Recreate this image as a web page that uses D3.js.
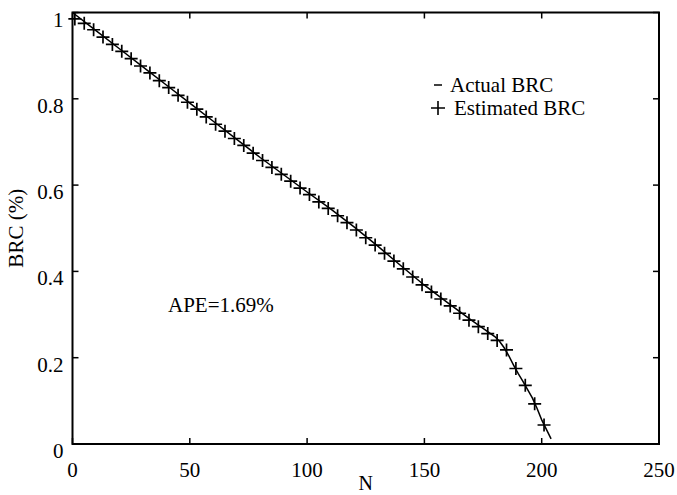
<!DOCTYPE html>
<html>
<head>
<meta charset="utf-8">
<script src="https://cdn.jsdelivr.net/npm/d3@7"></script>
<style>
  body { margin: 0; background: #fff; }
  text { font-family: "Liberation Serif", "Times New Roman", serif; fill: #000; }
</style>
</head>
<body>
<script>
// Actual BRC curve (polyline vertices)
var actualN = [0, 10, 20, 30, 40, 50, 60, 70, 80, 90, 100, 110, 120, 130, 140, 150,
  160, 170, 175, 180, 182, 184, 186, 188, 190, 192, 194, 196, 198, 200, 202, 204];
var actualBRC = [1.0, 0.958, 0.916, 0.874, 0.832, 0.790, 0.748, 0.706, 0.664, 0.624,
  0.584, 0.545, 0.503, 0.459, 0.413, 0.368, 0.327, 0.287, 0.268, 0.249, 0.238, 0.223,
  0.204, 0.183, 0.163, 0.145, 0.126, 0.107, 0.083, 0.056, 0.034, 0.012];

// Estimated BRC markers
var estN = [1, 5, 9, 13, 17, 21, 25, 29, 33, 37, 41, 45, 49, 53, 57, 61, 65, 69, 73, 77,
  81, 85, 89, 93, 97, 101, 105, 109, 113, 117, 121, 125, 129, 133, 137, 141, 145, 149,
  153, 157, 161, 165, 169, 173, 177, 181, 185, 189, 193, 197, 201];
var estBRC = [0.985, 0.975, 0.960, 0.943, 0.926, 0.910, 0.893, 0.876, 0.860, 0.842,
  0.826, 0.808, 0.792, 0.776, 0.758, 0.741, 0.725, 0.708, 0.692, 0.674, 0.657, 0.641,
  0.625, 0.609, 0.593, 0.578, 0.561, 0.546, 0.529, 0.513, 0.496, 0.478, 0.461, 0.442,
  0.424, 0.406, 0.387, 0.369, 0.352, 0.336, 0.320, 0.303, 0.287, 0.272, 0.256, 0.240,
  0.218, 0.175, 0.136, 0.093, 0.044];

var xTicks = [0, 50, 100, 150, 200, 250];
var yTicks = [0, 0.2, 0.4, 0.6, 0.8, 1];
var yTickLabels = ['0', '0.2', '0.4', '0.6', '0.8', '1'];

var width = 677, height = 495;
var margin = { top: 12.5, right: 18, bottom: 51, left: 72.5 };
var w = width - margin.left - margin.right;
var h = height - margin.top - margin.bottom;

var svg = d3.select('body').append('svg')
  .attr('width', width)
  .attr('height', height);

var g = svg.append('g')
  .attr('transform', 'translate(' + margin.left + ',' + margin.top + ')');

var x = d3.scaleLinear().domain([0, 250]).range([0, w]);
var y = d3.scaleLinear().domain([0, 1]).range([h, 0]);

// frame
g.append('rect')
  .attr('width', w).attr('height', h)
  .attr('fill', 'none').attr('stroke', '#000').attr('stroke-width', 2);

// inward ticks on all four sides
var tickLen = 6;
xTicks.forEach(function (t) {
  g.append('line').attr('x1', x(t)).attr('x2', x(t)).attr('y1', h).attr('y2', h - tickLen)
    .attr('stroke', '#000').attr('stroke-width', 1.5);
  g.append('line').attr('x1', x(t)).attr('x2', x(t)).attr('y1', 0).attr('y2', tickLen)
    .attr('stroke', '#000').attr('stroke-width', 1.5);
  g.append('text').attr('x', x(t)).attr('y', h + 33)
    .attr('text-anchor', 'middle').attr('font-size', 21).text(t);
});
yTicks.forEach(function (t, i) {
  g.append('line').attr('x1', 0).attr('x2', tickLen).attr('y1', y(t)).attr('y2', y(t))
    .attr('stroke', '#000').attr('stroke-width', 1.5);
  g.append('line').attr('x1', w).attr('x2', w - tickLen).attr('y1', y(t)).attr('y2', y(t))
    .attr('stroke', '#000').attr('stroke-width', 1.5);
  g.append('text').attr('x', -9).attr('y', y(t) + 14)
    .attr('text-anchor', 'end').attr('font-size', 21).text(yTickLabels[i]);
});

// axis titles
g.append('text').attr('x', w / 2).attr('y', h + 46)
  .attr('text-anchor', 'middle').attr('font-size', 20).text('N');
g.append('text')
  .attr('transform', 'translate(' + (-50) + ',' + (h / 2) + ') rotate(-90)')
  .attr('text-anchor', 'middle').attr('font-size', 21).text('BRC (%)');

// actual line
var line = d3.line()
  .x(function (d, i) { return x(actualN[i]); })
  .y(function (d) { return y(d); });
g.append('path').datum(actualBRC)
  .attr('d', line).attr('fill', 'none').attr('stroke', '#000').attr('stroke-width', 1.5);

// estimated markers
var ms = 6.5;
var marks = g.append('g').selectAll('g').data(estBRC).enter().append('g')
  .attr('transform', function (d, i) { return 'translate(' + x(estN[i]) + ',' + y(d) + ')'; });
marks.append('path')
  .attr('d', 'M' + (-ms) + ',0H' + ms + 'M0,' + (-ms) + 'V' + ms)
  .attr('stroke', '#000').attr('stroke-width', 1.7).attr('fill', 'none');

// annotation
g.append('text').attr('x', 168 - margin.left).attr('y', 312 - margin.top)
  .attr('font-size', 21).text('APE=1.69%');

// legend
var legX = 438 - margin.left, legTextX = 450 - margin.left;
g.append('path')
  .attr('d', 'M' + (legX - 4) + ',' + (85 - margin.top) + 'h8')
  .attr('stroke', '#000').attr('stroke-width', 1.5);
g.append('text').attr('x', legTextX).attr('y', 92 - margin.top)
  .attr('font-size', 21).text('Actual BRC');
g.append('path')
  .attr('d', 'M' + (legX - 7) + ',' + (108 - margin.top) + 'h14M' +
    legX + ',' + (101 - margin.top) + 'v14')
  .attr('stroke', '#000').attr('stroke-width', 1.6);
g.append('text').attr('x', legTextX + 4).attr('y', 115 - margin.top)
  .attr('font-size', 21).text('Estimated BRC');
</script>
</body>
</html>
